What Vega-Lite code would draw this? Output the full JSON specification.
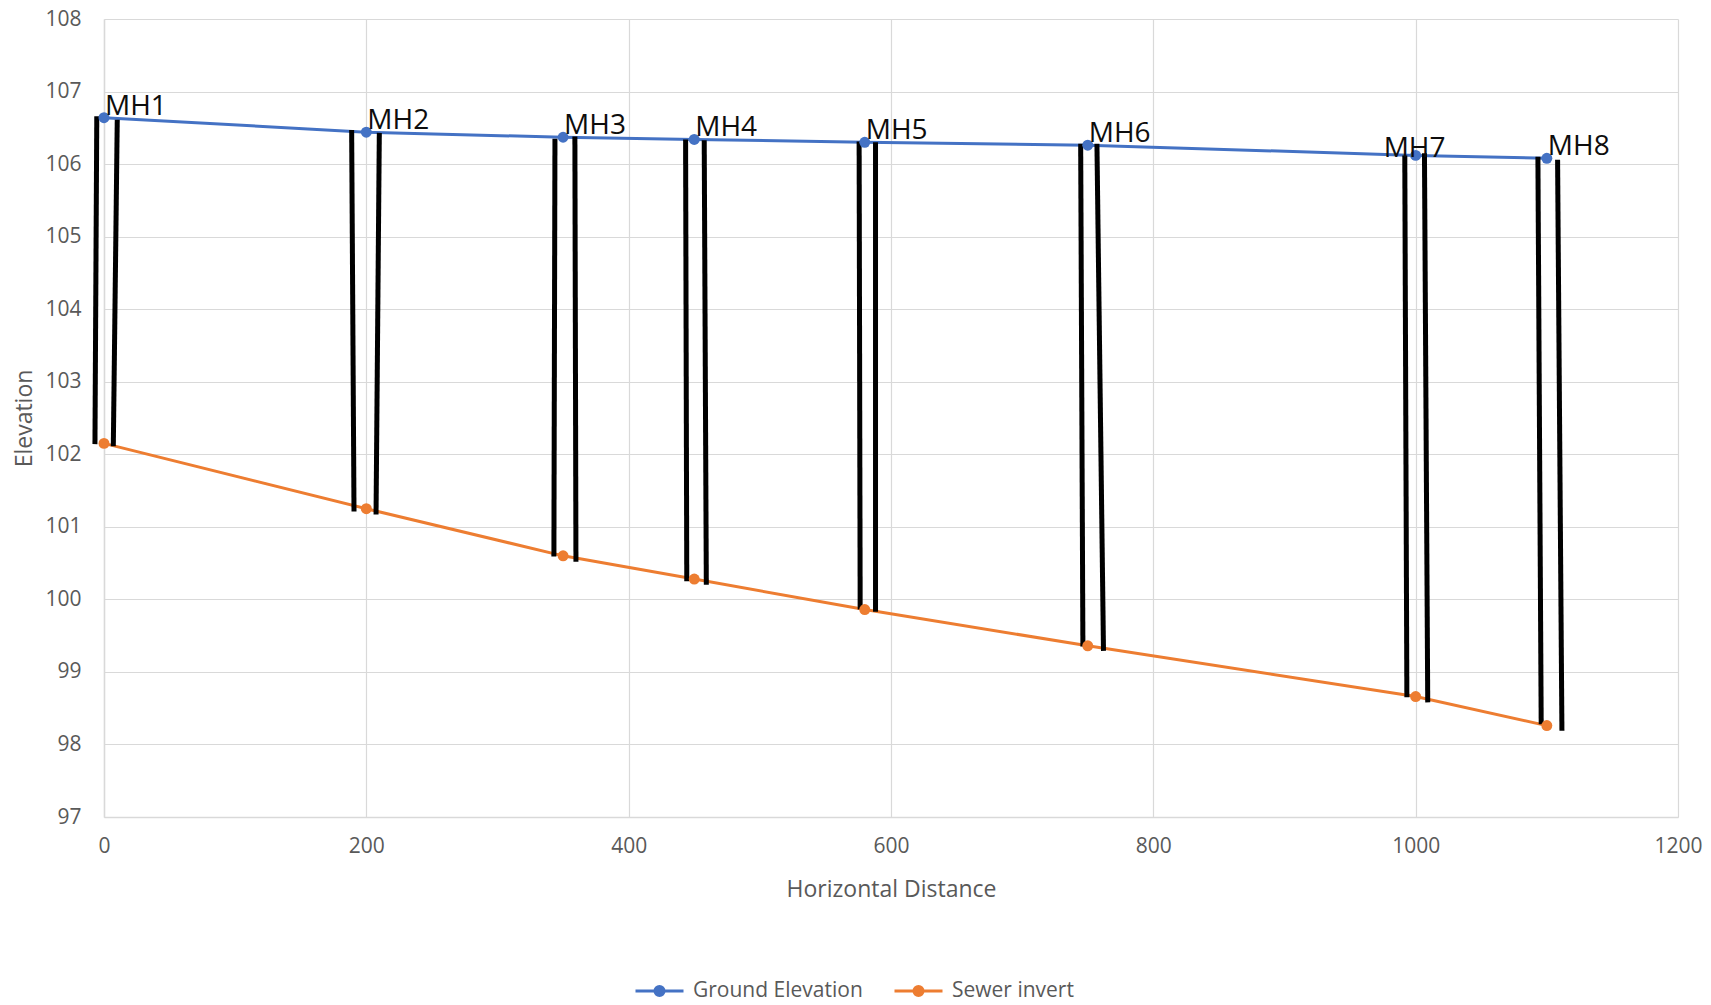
{
  "$schema": "https://vega.github.io/schema/vega-lite/v6.json",
  "width": 1574,
  "height": 798,
  "autosize": {"type": "none"},
  "padding": {"left": 104, "top": 19, "right": 33, "bottom": 188},
  "background": "white",
  "config": {
    "view": {"stroke": null},
    "font": "Open Sans",
    "axis": {
      "grid": true,
      "gridColor": "#D9D9D9",
      "gridWidth": 1.2,
      "domainColor": "#D9D9D9",
      "domainWidth": 1.5,
      "ticks": false,
      "tickSize": 0,
      "labelColor": "#595959",
      "labelFontSize": 21,
      "labelFlush": false,
      "titleColor": "#595959",
      "titleFontSize": 23,
      "titleFontWeight": "normal"
    }
  },
  "datasets": {
    "profile": [
      {"mh": "MH1", "dist": 0, "series": "Ground Elevation", "elev": 106.64},
      {"mh": "MH2", "dist": 200, "series": "Ground Elevation", "elev": 106.44},
      {"mh": "MH3", "dist": 350, "series": "Ground Elevation", "elev": 106.37},
      {"mh": "MH4", "dist": 450, "series": "Ground Elevation", "elev": 106.34},
      {"mh": "MH5", "dist": 580, "series": "Ground Elevation", "elev": 106.30},
      {"mh": "MH6", "dist": 750, "series": "Ground Elevation", "elev": 106.26},
      {"mh": "MH7", "dist": 1000, "series": "Ground Elevation", "elev": 106.12},
      {"mh": "MH8", "dist": 1100, "series": "Ground Elevation", "elev": 106.08},
      {"mh": "MH1", "dist": 0, "series": "Sewer invert", "elev": 102.15},
      {"mh": "MH2", "dist": 200, "series": "Sewer invert", "elev": 101.25},
      {"mh": "MH3", "dist": 350, "series": "Sewer invert", "elev": 100.60},
      {"mh": "MH4", "dist": 450, "series": "Sewer invert", "elev": 100.28},
      {"mh": "MH5", "dist": 580, "series": "Sewer invert", "elev": 99.86},
      {"mh": "MH6", "dist": 750, "series": "Sewer invert", "elev": 99.36},
      {"mh": "MH7", "dist": 1000, "series": "Sewer invert", "elev": 98.66},
      {"mh": "MH8", "dist": 1100, "series": "Sewer invert", "elev": 98.26}
    ],
    "walls": [
      {"mh": "MH1", "side": "L", "x1": -5.5, "y1": 106.66, "x2": -6.9, "y2": 102.14},
      {"mh": "MH1", "side": "R", "x1": 10.1, "y1": 106.61, "x2": 7.1, "y2": 102.11},
      {"mh": "MH2", "side": "L", "x1": 188.8, "y1": 106.47, "x2": 190.6, "y2": 101.21},
      {"mh": "MH2", "side": "R", "x1": 209.9, "y1": 106.43, "x2": 207.4, "y2": 101.17},
      {"mh": "MH3", "side": "L", "x1": 343.8, "y1": 106.35, "x2": 343.0, "y2": 100.59},
      {"mh": "MH3", "side": "R", "x1": 359.0, "y1": 106.38, "x2": 359.8, "y2": 100.52},
      {"mh": "MH4", "side": "L", "x1": 443.4, "y1": 106.34, "x2": 444.3, "y2": 100.25},
      {"mh": "MH4", "side": "R", "x1": 457.6, "y1": 106.33, "x2": 459.2, "y2": 100.20},
      {"mh": "MH5", "side": "L", "x1": 575.7, "y1": 106.31, "x2": 576.5, "y2": 99.86},
      {"mh": "MH5", "side": "R", "x1": 588.2, "y1": 106.30, "x2": 588.2, "y2": 99.83},
      {"mh": "MH6", "side": "L", "x1": 744.6, "y1": 106.28, "x2": 746.3, "y2": 99.35},
      {"mh": "MH6", "side": "R", "x1": 757.0, "y1": 106.28, "x2": 762.0, "y2": 99.29},
      {"mh": "MH7", "side": "L", "x1": 991.7, "y1": 106.12, "x2": 993.3, "y2": 98.65},
      {"mh": "MH7", "side": "R", "x1": 1006.7, "y1": 106.15, "x2": 1009.2, "y2": 98.58},
      {"mh": "MH8", "side": "L", "x1": 1093.2, "y1": 106.10, "x2": 1095.7, "y2": 98.28},
      {"mh": "MH8", "side": "R", "x1": 1108.2, "y1": 106.06, "x2": 1111.5, "y2": 98.19}
    ]
  },
  "encoding": {
    "x": {
      "field": "dist",
      "type": "quantitative",
      "scale": {"domain": [0, 1200], "nice": false, "zero": false},
      "axis": {
        "title": "Horizontal Distance",
        "values": [0, 200, 400, 600, 800, 1000, 1200],
        "format": "d",
        "labelPadding": 29,
        "labelBaseline": "middle",
        "titleY": 72,
        "titleBaseline": "middle"
      }
    },
    "y": {
      "field": "elev",
      "type": "quantitative",
      "scale": {"domain": [97, 108], "nice": false, "zero": false},
      "axis": {
        "title": "Elevation",
        "values": [97, 98, 99, 100, 101, 102, 103, 104, 105, 106, 107, 108],
        "labelPadding": 23,
        "titleX": -80,
        "titleY": 399,
        "titleAlign": "center",
        "titleBaseline": "middle"
      }
    }
  },
  "layer": [
    {
      "data": {"name": "profile"},
      "mark": {"type": "line", "strokeWidth": 3},
      "encoding": {
        "color": {
          "field": "series",
          "type": "nominal",
          "scale": {"domain": ["Ground Elevation", "Sewer invert"], "range": ["#4472C4", "#ED7D31"]},
          "legend": {
            "title": null,
            "orient": "none",
            "direction": "horizontal",
            "legendX": 530,
            "legendY": 946,
            "padding": 0,
            "symbolType": "M-1,0H1M-0.19,0a0.19,0.19 0 1,0 0.38,0a0.19,0.19 0 1,0 -0.38,0",
            "symbolSize": 2304,
            "symbolStrokeWidth": 3,
            "symbolOpacity": 1,
            "labelFontSize": 21,
            "labelLimit": 400,
            "labelColor": "#595959",
            "labelOffset": 8,
            "columnPadding": 25
          }
        }
      }
    },
    {
      "data": {"name": "walls"},
      "mark": {"type": "rule", "color": "black", "strokeWidth": 5, "strokeCap": "butt"},
      "encoding": {
        "x": {"field": "x1", "type": "quantitative"},
        "y": {"field": "y1", "type": "quantitative"},
        "x2": {"field": "x2"},
        "y2": {"field": "y2"}
      }
    },
    {
      "data": {"name": "profile"},
      "mark": {"type": "point", "filled": true, "opacity": 1, "size": 120},
      "encoding": {
        "color": {"field": "series", "type": "nominal"}
      }
    },
    {
      "data": {"name": "profile"},
      "transform": [{"filter": "datum.series === 'Ground Elevation' && datum.mh !== 'MH7'"}],
      "mark": {"type": "text", "align": "left", "baseline": "alphabetic", "dx": 1, "dy": -3, "fontSize": 28, "color": "#0d0d0d"},
      "encoding": {"text": {"field": "mh"}}
    },
    {
      "data": {"name": "profile"},
      "transform": [{"filter": "datum.series === 'Ground Elevation' && datum.mh === 'MH7'"}],
      "mark": {"type": "text", "align": "left", "baseline": "alphabetic", "dx": -32, "dy": 2, "fontSize": 28, "color": "#0d0d0d"},
      "encoding": {"text": {"field": "mh"}}
    }
  ]
}
